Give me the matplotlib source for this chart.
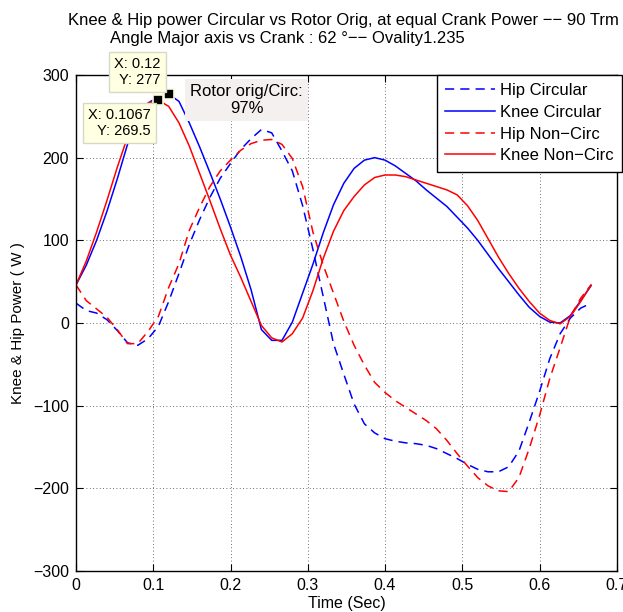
import matplotlib
matplotlib.use("Agg")
import matplotlib.pyplot as plt
import numpy as np

plt.rcParams["font.family"] = ["Liberation Sans", "DejaVu Sans"]

# sampling: 51 samples, 1/75 s apart
time_s = np.arange(51) / 75.0

hip_circ = [24, 15, 12, 4, -9, -24, -27, -19, -4, 26,
            60, 95, 125, 152, 175, 193, 210, 223, 234, 230,
            208, 184, 142, 89, 32, -25, -62, -98, -122, -133,
            -140, -143, -145, -146, -148, -152, -158, -164, -171, -177,
            -180, -180, -174, -155, -120, -83, -43, -13, 6, 18, 24]
knee_circ = [46, 70, 100, 135, 174, 216, 246, 266, 274, 277,
             268, 242, 213, 182, 150, 116, 80, 40, -8, -21,
             -21, 1, 36, 71, 109, 143, 169, 187, 197, 200,
             197, 190, 181, 172, 161, 151, 141, 128, 115, 100,
             83, 66, 50, 34, 19, 8, 1, 0, 9, 27, 45]
hip_nc = [46, 27, 17, 7, -8, -25, -25, -10, 8, 43,
          72, 112, 140, 165, 184, 197, 209, 217, 221, 222,
          216, 199, 165, 110, 70, 36, 2, -27, -51, -72,
          -84, -94, -102, -110, -118, -128, -142, -158, -173, -187,
          -197, -203, -204, -187, -152, -112, -67, -30, 8, 30, 46]
knee_nc = [46, 75, 110, 148, 188, 225, 252, 266, 269.5, 262,
           242, 214, 181, 148, 114, 82, 55, 26, -3, -18,
           -23, -13, 6, 39, 78, 111, 136, 153, 167, 176,
           179, 179, 177, 173, 169, 165, 161, 155, 142, 124,
           102, 80, 60, 42, 26, 12, 3, -1, 8, 26, 46]

labels = ["Hip Circular", "Knee Circular", "Hip Non\u2212Circ", "Knee Non\u2212Circ"]
ratio_text = "Rotor orig/Circ:\n97%"
tip_idx = [9, 8]  # datatips: knee circular peak, knee non-circ peak

fig = plt.figure(figsize=(6.23, 6.12), dpi=100)
ax = fig.add_axes([0.122, 0.067, 0.868, 0.8105])

dash = (6, 4)
ax.plot(time_s, hip_circ, color="b", lw=1.1, dashes=dash, label=labels[0])
ax.plot(time_s, knee_circ, color="b", lw=1.1, label=labels[1])
ax.plot(time_s, hip_nc, color="r", lw=1.1, dashes=dash, label=labels[2])
ax.plot(time_s, knee_nc, color="r", lw=1.1, label=labels[3])

ax.set_xlim(0, 0.7)
ax.set_ylim(-300, 300)
ax.set_xticks(np.arange(0, 0.71, 0.1))
ax.set_xticklabels(["0", "0.1", "0.2", "0.3", "0.4", "0.5", "0.6", "0.7"])
ax.set_yticks(np.arange(-300, 301, 100))
ax.set_yticklabels([str(v).replace("-", "\u2212") for v in range(-300, 301, 100)])
ax.tick_params(direction="in", top=True, right=True, length=5, width=0.8,
               labelsize=11.5, pad=5)
ax.grid(True, color="0.25", linestyle=(0, (1, 3)), linewidth=0.6)
for s in ax.spines.values():
    s.set_linewidth(1.0)

ax.set_xlabel("Time (Sec)", fontsize=11.5, labelpad=2)
ax.set_ylabel("Knee & Hip Power ( W )", fontsize=11)
ax.yaxis.set_label_coords(-0.095, 0.5)

fig.text(68 / 623, 1 - 20 / 612,
         "Knee & Hip power Circular vs Rotor Orig, at equal Crank Power \u2212\u2212 90 Trm",
         fontsize=12, ha="left", va="center")
fig.text(110 / 623, 1 - 38 / 612,
         "Angle Major axis vs Crank : 62 \u00b0\u2212\u2212 Ovality1.235",
         fontsize=12, ha="left", va="center")

leg = ax.legend(loc="upper left", bbox_to_anchor=(0.667, 1.0), fontsize=12,
                frameon=True, fancybox=False, edgecolor="k", framealpha=1,
                borderaxespad=0, handlelength=3.0, handletextpad=0.3,
                labelspacing=0.4, borderpad=0.5)
leg.get_frame().set_linewidth(1.0)

# datatips
ks = [knee_circ, knee_nc]
offsets = [(-8, 7), (-8, -8)]
vas = ["bottom", "top"]
for i, (series, off, va) in enumerate(zip(ks, offsets, vas)):
    j = tip_idx[i]
    xv, yv = time_s[j], series[j]
    ax.plot(xv, yv, "s", ms=6.5, mfc="k", mec="#fbfbe0", mew=1.2, zorder=6)
    ytxt = f"{yv:g}"
    ax.annotate(f"X: {round(xv, 4):g}\nY: {ytxt}", xy=(xv, yv),
                xytext=off, textcoords="offset pixels", ha="right", va=va,
                fontsize=10.5, multialignment="right", zorder=7,
                bbox=dict(boxstyle="square,pad=0.35", fc="#ffffe1", ec="#d8d8c8", lw=1.0),
                annotation_clip=False)

ax.text(0.221, 270, ratio_text, ha="center", va="center", fontsize=12,
        multialignment="center", zorder=5,
        bbox=dict(boxstyle="square,pad=0.3", fc="#f4f0f0", ec="none"))

fig.savefig("out.png", dpi=100)
